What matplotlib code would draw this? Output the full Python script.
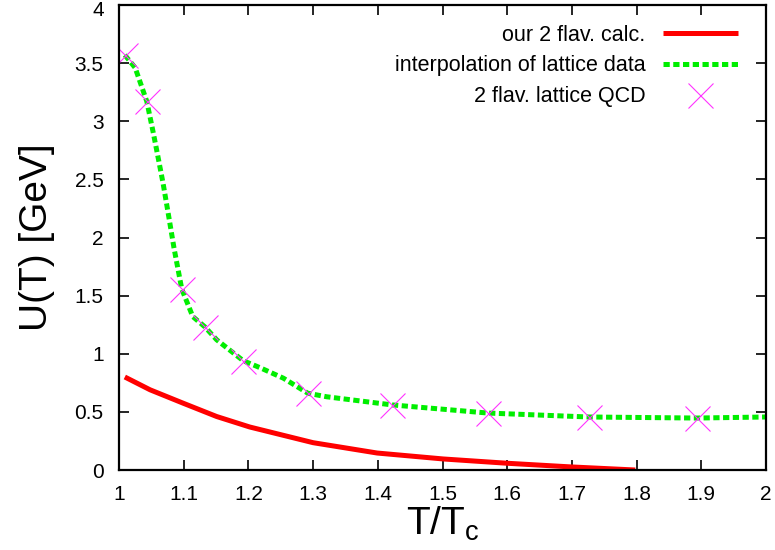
import matplotlib
matplotlib.use("Agg")
import matplotlib.pyplot as plt
from matplotlib.transforms import ScaledTranslation

plt.rcParams['font.family'] = ['Liberation Sans', 'DejaVu Sans']
plt.rcParams['mathtext.fontset'] = 'custom'
plt.rcParams['mathtext.rm'] = 'Liberation Sans'
plt.rcParams['mathtext.it'] = 'Liberation Sans'

# our 2 flavour calculation
calc_t = [1.009, 1.048, 1.099, 1.151, 1.202, 1.300, 1.399, 1.501, 1.600, 1.697, 1.798]
calc_u = [0.80, 0.69, 0.575, 0.46, 0.37, 0.235, 0.146, 0.095, 0.058, 0.027, 0.0]

# interpolation of lattice data
interp_t = [1.009, 1.025, 1.043, 1.053, 1.059, 1.068, 1.076, 1.085, 1.097, 1.114, 1.133,
            1.151, 1.192, 1.218, 1.254, 1.292, 1.321, 1.422, 1.570, 1.726, 1.893, 2.0]
interp_u = [3.57, 3.46, 3.17, 2.90, 2.73, 2.47, 2.21, 1.91, 1.557, 1.32, 1.23,
            1.12, 0.94, 0.88, 0.79, 0.66, 0.63, 0.56, 0.49, 0.456, 0.447, 0.456]

# 2 flavour lattice QCD
lat_t = [1.009, 1.043, 1.097, 1.133, 1.192, 1.292, 1.422, 1.570, 1.726, 1.893]
lat_u = [3.57, 3.17, 1.557, 1.23, 0.94, 0.66, 0.56, 0.49, 0.456, 0.447]

xticks = [1, 1.1, 1.2, 1.3, 1.4, 1.5, 1.6, 1.7, 1.8, 1.9, 2]
xticklabels = ['1', '1.1', '1.2', '1.3', '1.4', '1.5', '1.6', '1.7', '1.8', '1.9', '2']
yticks = [0, 0.5, 1, 1.5, 2, 2.5, 3, 3.5, 4]
yticklabels = ['0', '0.5', '1', '1.5', '2', '2.5', '3', '3.5', '4']

fig = plt.figure(figsize=(7.75, 5.5), dpi=100)
ax = fig.add_axes([119/775, 1 - 470/550, (766-119)/775, (470-5)/550])

ax.plot(calc_t, calc_u, color='#ff0000', lw=3.6, label='our 2 flav. calc.', solid_capstyle='butt')
ax.plot(interp_t, interp_u, color='#00ee00', lw=3.6, dashes=(1.25, 0.7),
        label='interpolation of lattice data')
ax.plot(lat_t, lat_u, ls='none', marker='x', ms=18, mew=0.8, color='#ff33ff',
        label='2 flav. lattice QCD')

ax.set_xlim(1, 2)
ax.set_ylim(0, 4)
ax.set_xticks(xticks)
ax.set_xticklabels(xticklabels)
ax.set_yticks(yticks)
ax.set_yticklabels(yticklabels)
ax.tick_params(direction='in', length=7, width=1.2, top=True, right=True,
               labelsize=15, pad=11)
for s in ax.spines.values():
    s.set_linewidth(1.6)

# nudge the topmost y tick label down a little so it stays inside the figure
top_lab = ax.get_yticklabels()[-1]
top_lab.set_transform(top_lab.get_transform() + ScaledTranslation(0, -4/100, fig.dpi_scale_trans))

ax.set_xlabel(r'T/T$_{\rm c}$', fontsize=28, labelpad=0)
ax.set_ylabel('U(T) [GeV]', fontsize=28, labelpad=14)

leg = ax.legend(loc='upper right', frameon=False, markerfirst=False, fontsize=15.5,
                handlelength=3.5, labelspacing=0.45, borderaxespad=0.3,
                bbox_to_anchor=(0.98, 0.99))

fig.savefig('out.png', dpi=100)
